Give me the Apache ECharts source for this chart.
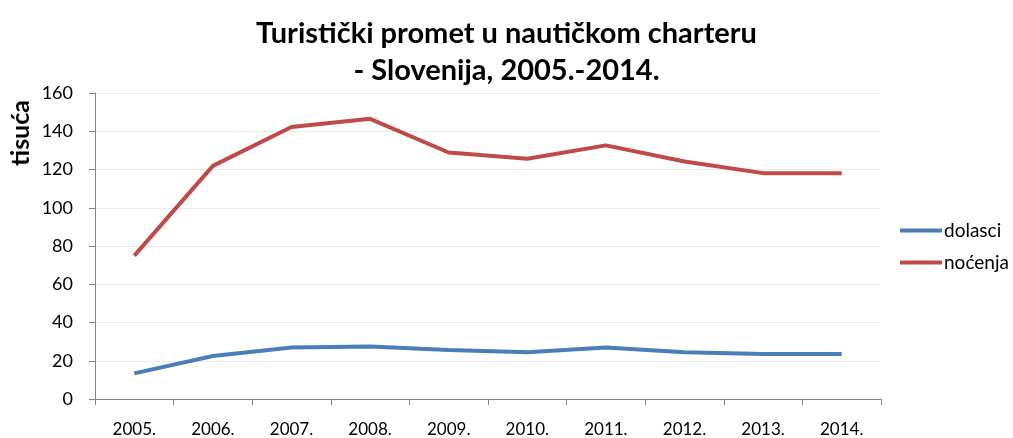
<!DOCTYPE html>
<html>
<head>
<meta charset="utf-8">
<script src="https://cdn.jsdelivr.net/npm/echarts@6/dist/echarts.min.js"></script>
<style>
  html, body { margin: 0; padding: 0; background: #fff; }
  #chart { width: 1013px; height: 438px; }
</style>
</head>
<body>
<div id="chart"></div>
<script>
// podaci (tisuća)
var godine = ['2005.', '2006.', '2007.', '2008.', '2009.', '2010.', '2011.', '2012.', '2013.', '2014.'];
var dolasci = [13.4, 22.5, 26.9, 27.4, 25.6, 24.4, 26.9, 24.4, 23.5, 23.5];
var nocenja = [75, 121.9, 142.2, 146.5, 128.9, 125.6, 132.6, 124.2, 118.1, 118.1];

var font = 'Lato, "Open Sans", sans-serif';

var chart = echarts.init(document.getElementById('chart'));
var option = {
    animation: false,
    title: {
        text: 'Turistički promet u nautičkom charteru\n- Slovenija, 2005.-2014.',
        left: 'center',
        top: 10,
        textStyle: {
            fontFamily: font,
            fontSize: 29,
            fontWeight: 'bold',
            color: '#000',
            lineHeight: 37
        }
    },
    graphic: [{
        type: 'text',
        x: 21,
        y: 133,
        rotation: Math.PI / 2,
        style: {
            text: 'tisuća',
            font: 'bold 25px ' + font,
            fill: '#000',
            align: 'center',
            verticalAlign: 'middle'
        }
    }],
    legend: {
        orient: 'vertical',
        left: 895,
        top: 216,
        itemWidth: 42,
        itemHeight: 4,
        itemGap: 13,
        icon: 'rect',
        data: ['dolasci', 'noćenja'],
        textStyle: { fontFamily: font, fontSize: 19, color: '#000', padding: [0, 0, 0, -3] }
    },
    grid: { left: 95, right: 132, top: 93, bottom: 39 },
    xAxis: {
        type: 'category',
        data: godine,
        boundaryGap: true,
        axisLine: { lineStyle: { color: '#868686' } },
        axisTick: { show: true, length: 6, lineStyle: { color: '#868686' } },
        axisLabel: { fontFamily: font, fontSize: 17, color: '#000', margin: 22 },
        splitLine: { show: false }
    },
    yAxis: {
        type: 'value',
        min: 0,
        max: 160,
        interval: 20,
        axisLine: { show: true, lineStyle: { color: '#868686' } },
        axisTick: { show: true, length: 6, lineStyle: { color: '#868686' } },
        axisLabel: { fontFamily: font, fontSize: 18, color: '#000', margin: 22 },
        splitLine: { lineStyle: { color: '#ececec' } }
    },
    series: [
        {
            name: 'dolasci',
            type: 'line',
            data: dolasci,
            symbol: 'none',
            itemStyle: { color: '#4a7ebb' },
            lineStyle: { width: 4, color: '#4a7ebb' }
        },
        {
            name: 'noćenja',
            type: 'line',
            data: nocenja,
            symbol: 'none',
            itemStyle: { color: '#be4b48' },
            lineStyle: { width: 4, color: '#be4b48' }
        }
    ]
};
chart.setOption(option);
</script>
</body>
</html>
